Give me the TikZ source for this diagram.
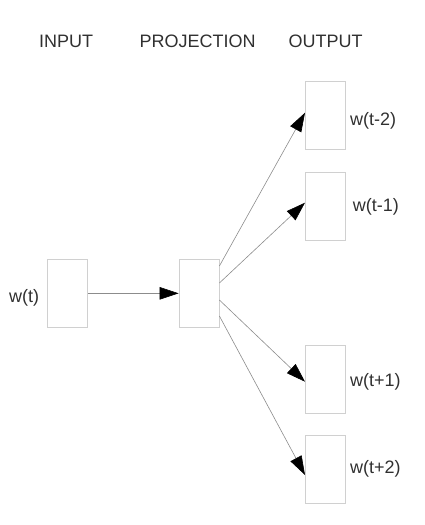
\documentclass[tikz,border=0pt]{standalone}
\usepackage{fontspec}
\setmainfont{Liberation Sans}
\usetikzlibrary{arrows.meta}
\definecolor{boxgray}{HTML}{D0D0D0}
\definecolor{linegray}{HTML}{8C8C8C}
\definecolor{textgray}{HTML}{303030}

\begin{document}
\begin{tikzpicture}[x=1pt, y=-1pt,
  box/.style={draw=boxgray, line width=0.8pt, minimum width=40pt, minimum height=68pt, inner sep=0pt},
  txt/.style={anchor=base west, inner sep=0pt, text=textgray, font=\fontsize{18}{20}\selectfont},
  link/.style={draw=linegray, line width=0.6pt, -{Triangle[length=19pt, width=12.5pt, color=black]}}]
  \useasboundingbox (0,0) rectangle (425,525);
  % column headings
  \node[txt] (hin) at (39,47.3) {INPUT};
  \node[txt] (hproj) at (139.3,47.3) {PROJECTION};
  \node[txt] (hout) at (288.3,47.3) {OUTPUT};
  % layers
  \node[box] (in) at (67.7,293.3) {};
  \node[box] (proj) at (199,293.3) {};
  \node[box] (om2) at (325.4,115.7) {};
  \node[box] (om1) at (325.4,206.2) {};
  \node[box] (op1) at (325.4,379.3) {};
  \node[box] (op2) at (325.4,469.3) {};
  % words
  \node[txt] (win) at (9,302.3) {w(t)};
  \node[txt] (wm2) at (350,125) {w(t-2)};
  \node[txt] (wm1) at (352.7,211.7) {w(t-1)};
  \node[txt] (wp1) at (350,386.7) {w(t+1)};
  \node[txt] (wp2) at (350,473.3) {w(t+2)};
  % connections
  \draw[link] (in.east) -- (proj.west);
  \draw[link] ([yshift=27.3pt]proj.east) -- ([yshift=3pt]om2.west);
  \draw[link] ([yshift=10.3pt]proj.east) -- ([yshift=3.5pt]om1.west);
  \draw[link] ([yshift=-6.7pt]proj.east) -- ([yshift=-2.4pt]op1.west);
  \draw[link] ([yshift=-22.7pt]proj.east) -- ([yshift=-5.7pt]op2.west);
\end{tikzpicture}
\end{document}
